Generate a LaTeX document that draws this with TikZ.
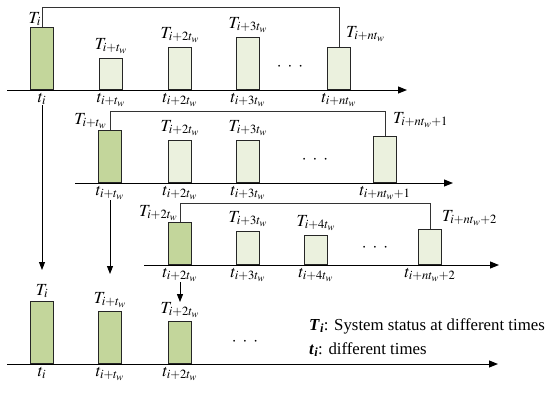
\documentclass[tikz,border=0pt]{standalone}
\usepackage{mathptmx}
\usepackage{fontspec}
\setmainfont{Liberation Serif}
\usetikzlibrary{arrows.meta,positioning}
\definecolor{bardark}{RGB}{195,214,155}
\definecolor{barlight}{RGB}{235,241,222}

\begin{document}
\begin{tikzpicture}[x=1pt,y=-1pt,
  font=\fontsize{17}{20}\selectfont,
  bar/.style={draw=black!85, line width=0.9pt, minimum width=23pt, inner sep=0pt, anchor=south},
  cur/.style={bar, fill=bardark},
  nxt/.style={bar, fill=barlight},
  lab/.style={inner sep=0pt},
  axis/.style={line width=1pt, -{Triangle[length=9pt,width=7pt]}},
  link/.style={line width=1pt, black!80},
  down/.style={line width=0.9pt, -{Triangle[length=8pt,width=6pt]}}]
  \useasboundingbox (0,0) rectangle (550,392);

  % first window
  \coordinate (a1l) at (7,90);
  \coordinate (a1r) at (407,90);
  \coordinate (top1) at (0,7);
  \draw[axis] (a1l) -- (a1r);
  \node[cur, minimum height=62pt] (b11) at (42,90) {};
  \node[nxt, minimum height=31pt] (b12) at (111,90) {};
  \node[nxt, minimum height=42pt] (b13) at (180,90) {};
  \node[nxt, minimum height=52pt] (b14) at (248,90) {};
  \node[nxt, minimum height=42pt] (b15) at (339,90) {};
  \draw[link] (b11.north) -- (b11.north |- top1) -| (b15.north);
  \node[lab, above left=1pt and 1pt of b11.north] (T11) {$T_i$};
  \node[lab, above=4pt of b12] (T12) {$T_{i+t_w}$};
  \node[lab, above=4pt of b13] (T13) {$T_{i+2t_w}$};
  \node[lab, above=4pt of b14] (T14) {$T_{i+3t_w}$};
  \node[lab, above right=5pt and 7pt of b15.north] (T15) {$T_{i+nt_w}$};
  \node[lab, below=3pt of b11.south] (t11) {$t_i$};
  \node[lab, below=3pt of b12.south] (t12) {$t_{i+t_w}$};
  \node[lab, below=3pt of b13.south] (t13) {$t_{i+2t_w}$};
  \node[lab, below=3pt of b14.south] (t14) {$t_{i+3t_w}$};
  \node[lab, below=3pt of b15.south] (t15) {$t_{i+nt_w}$};
  \node (d1) at (290,67) {$\cdot\;\cdot\;\cdot$};

  % second window
  \coordinate (a2l) at (75,183);
  \coordinate (a2r) at (453,183);
  \coordinate (top2) at (0,111);
  \draw[axis] (a2l) -- (a2r);
  \node[cur, minimum height=52pt] (b21) at (110,183) {};
  \node[nxt, minimum height=42pt] (b22) at (180,183) {};
  \node[nxt, minimum height=42pt] (b23) at (248,183) {};
  \node[nxt, minimum height=46pt] (b24) at (385,183) {};
  \draw[link] (b21.north) -- (b21.north |- top2) -| (b24.north);
  \node[lab, above left=1pt and 3pt of b21.north] (T21) {$T_{i+t_w}$};
  \node[lab, above=4pt of b22] (T22) {$T_{i+2t_w}$};
  \node[lab, above=4pt of b23] (T23) {$T_{i+3t_w}$};
  \node[lab, above right=8pt and 8pt of b24.north] (T24) {$T_{i+nt_w+1}$};
  \node[lab, below=3pt of b21.south] (t21) {$t_{i+t_w}$};
  \node[lab, below=3pt of b22.south] (t22) {$t_{i+2t_w}$};
  \node[lab, below=3pt of b23.south] (t23) {$t_{i+3t_w}$};
  \node[lab, below=3pt of b24.south] (t24) {$t_{i+nt_w+1}$};
  \node (d2) at (315,160) {$\cdot\;\cdot\;\cdot$};

  % third window
  \coordinate (a3l) at (144,265);
  \coordinate (a3r) at (499,265);
  \coordinate (top3) at (0,203);
  \draw[axis] (a3l) -- (a3r);
  \node[cur, minimum height=42pt] (b31) at (180,265) {};
  \node[nxt, minimum height=33pt] (b32) at (248,265) {};
  \node[nxt, minimum height=29pt] (b33) at (316,265) {};
  \node[nxt, minimum height=35pt] (b34) at (430,265) {};
  \draw[link] (b31.north) -- (b31.north |- top3) -| (b34.north);
  \node[lab, above left=1pt and 2pt of b31.north] (T31) {$T_{i+2t_w}$};
  \node[lab, above=4pt of b32] (T32) {$T_{i+3t_w}$};
  \node[lab, above=4pt of b33] (T33) {$T_{i+4t_w}$};
  \node[lab, above right=3pt and 12pt of b34.north] (T34) {$T_{i+nt_w+2}$};
  \node[lab, below=3pt of b31.south] (t31) {$t_{i+2t_w}$};
  \node[lab, below=3pt of b32.south] (t32) {$t_{i+3t_w}$};
  \node[lab, below=3pt of b33.south] (t33) {$t_{i+4t_w}$};
  \node[lab, below=3pt of b34.south] (t34) {$t_{i+nt_w+2}$};
  \node (d3) at (375,248) {$\cdot\;\cdot\;\cdot$};

  % collected states
  \coordinate (a4l) at (7,364);
  \coordinate (a4r) at (498,364);
  \draw[axis] (a4l) -- (a4r);
  \node[cur, minimum height=62pt] (b41) at (42,364) {};
  \node[cur, minimum height=52pt] (b42) at (110,364) {};
  \node[cur, minimum height=42pt] (b43) at (180,364) {};
  \node[lab, above=3pt of b41] (T41) {$T_i$};
  \node[lab, above=3pt of b42] (T42) {$T_{i+t_w}$};
  \node[lab, above=3pt of b43] (T43) {$T_{i+2t_w}$};
  \node[lab, below=3pt of b41.south] (t41) {$t_i$};
  \node[lab, below=3pt of b42.south] (t42) {$t_{i+t_w}$};
  \node[lab, below=3pt of b43.south] (t43) {$t_{i+2t_w}$};
  \node (d4) at (245,342) {$\cdot\;\cdot\;\cdot$};

  \coordinate (e1) at (0,270);
  \coordinate (e2) at (0,274);
  \draw[down] (t11) -- (t11 |- e1);
  \draw[down] (t21) -- (t21 |- e2);
  \draw[down] (t31) -- (T43);

  % key
  \node[lab, anchor=base west, font=\fontsize{16.8}{20}\selectfont] (key1) at (309,330)
    {\textbf{\textit{T}\textsubscript{\textit{i}}}: System status at different times};
  \node[lab, anchor=base west, font=\fontsize{16.8}{20}\selectfont] (key2) at (309,354)
    {\textbf{\textit{t}\textsubscript{\textit{i}}}: different times};
\end{tikzpicture}
\end{document}
